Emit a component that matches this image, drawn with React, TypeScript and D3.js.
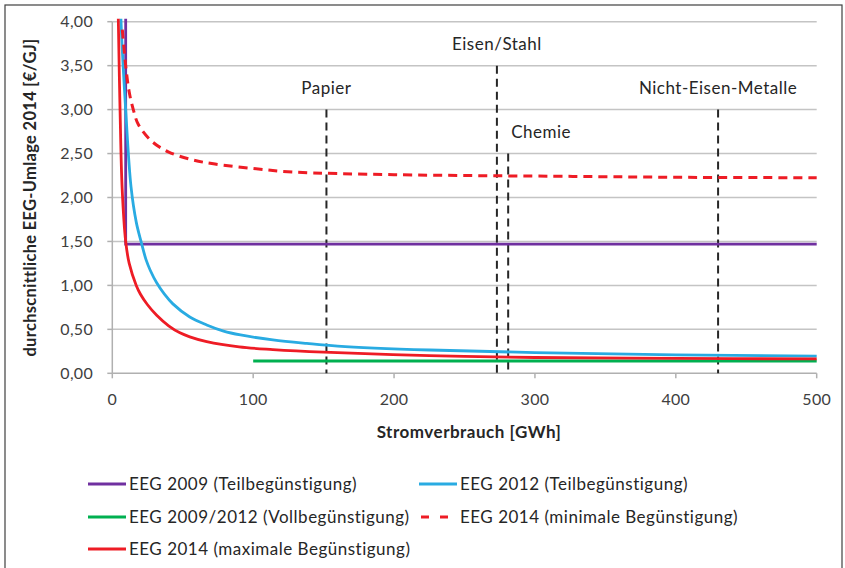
import { useEffect } from "react";
import * as d3 from "d3";

// Stromverbrauch [GWh] / EEG-Umlage [€/GJ]
const eeg2009Teil: [number, number][] = [
  [9.5, 4.4],
  [9.5, 1.47],
  [500, 1.47],
];

const eeg2012Teil: [number, number][] = [
  [5.8, 4.3], [6.2, 4.0], [9.5, 3.0], [13.3, 2.12], [17, 1.72], [20.4, 1.5],
  [24, 1.29], [27, 1.17], [31.5, 1.03], [37, 0.9], [43, 0.79], [55, 0.64], [67, 0.55],
  [79, 0.48], [91, 0.436], [114, 0.38], [138, 0.34], [160, 0.31], [225, 0.265],
  [300, 0.235], [400, 0.21], [500, 0.195],
];

const eegVoll: [number, number][] = [
  [100, 0.14],
  [500, 0.14],
];

const eeg2014Min: [number, number][] = [
  [7.1, 3.91], [9.5, 3.5], [12, 3.2], [14.9, 3.0], [18.5, 2.83], [28, 2.64],
  [39.7, 2.52], [56.4, 2.43], [72.9, 2.38], [100, 2.33], [128, 2.29], [200, 2.26],
  [327, 2.24], [400, 2.23], [500, 2.225],
];

const eeg2014Max: [number, number][] = [
  [4.0, 4.3], [4.3, 4.0], [5.5, 3.0], [7, 2.1], [9.5, 1.5], [12, 1.25], [17, 1.0],
  [20, 0.9], [25, 0.78], [31.5, 0.66], [40, 0.54], [48, 0.46], [55, 0.415],
  [67, 0.36], [90, 0.3], [114, 0.27], [150, 0.24], [225, 0.2], [300, 0.18],
  [400, 0.17], [500, 0.163],
];

const branchen = ["Papier", "Eisen/Stahl", "Chemie", "Nicht-Eisen-Metalle"];
const branchenX = [152, 273, 281, 430];
const branchenTop = [3.0, 3.5, 2.5, 3.0];

const xTicks = [0, 100, 200, 300, 400, 500];
const yTicks = [0, 0.5, 1, 1.5, 2, 2.5, 3, 3.5, 4];

const series = [
  { name: "EEG 2009 (Teilbegünstigung)", data: eeg2009Teil, color: "#7030a0", dash: "" },
  { name: "EEG 2012 (Teilbegünstigung)", data: eeg2012Teil, color: "#29abe2", dash: "" },
  { name: "EEG 2009/2012 (Vollbegünstigung)", data: eegVoll, color: "#00b050", dash: "" },
  { name: "EEG 2014 (minimale Begünstigung)", data: eeg2014Min, color: "#ee1c25", dash: "9 6" },
  { name: "EEG 2014 (maximale Begünstigung)", data: eeg2014Max, color: "#ee1c25", dash: "" },
];

const W = 845;
const H = 568;
const margin = { left: 112.3, right: 28.3, top: 21.7, bottom: 194.7 };
const FONT = "Lato, 'Open Sans', sans-serif";

export default function App() {
  useEffect(() => {
    document.body.style.margin = "0";
  }, []);

  const x = d3.scaleLinear().domain([0, 500]).range([margin.left, W - margin.right]);
  const y = d3.scaleLinear().domain([0, 4]).range([H - margin.bottom, margin.top]);
  const smooth = d3
    .line<[number, number]>()
    .x((d) => x(d[0]))
    .y((d) => y(d[1]))
    .curve(d3.curveCatmullRom.alpha(0.5));
  const straight = d3
    .line<[number, number]>()
    .x((d) => x(d[0]))
    .y((d) => y(d[1]));

  // draw order: markers under curves
  const drawOrder = [0, 2, 1, 4, 3];
  const labelDx = [0, 0, 33, 0];
  const legendCols = [88, 419];
  const legendRows = [484, 517, 549];

  return (
    <svg width={W} height={H} style={{ display: "block", background: "#fff" }} fontFamily={FONT}>
      <defs>
        <clipPath id="plot">
          <rect x={margin.left} y={margin.top - 3} width={W - margin.left - margin.right + 2} height={H - margin.top - margin.bottom + 3} />
        </clipPath>
      </defs>
      <rect x={5} y={5} width={837} height={570} fill="none" stroke="#404040" strokeWidth={1.2} />

      {/* grid */}
      {yTicks.map((t) => (
        <g key={"y" + t}>
          {t > 0 && (
            <line x1={x(0)} x2={x(500)} y1={y(t)} y2={y(t)} stroke="#c4c4c4" strokeWidth={1.5} />
          )}
          <line x1={x(0) - 5} x2={x(0)} y1={y(t)} y2={y(t)} stroke="#b0b0b0" strokeWidth={1.5} />
          <text x={93} y={y(t)} dy="0.35em" textAnchor="end" fontSize={16} letterSpacing={0.3} fill="#404040">
            {d3.format(".2f")(t).replace(".", ",")}
          </text>
        </g>
      ))}
      {xTicks.map((t) => (
        <g key={"x" + t}>
          <line x1={x(t)} x2={x(t)} y1={y(0)} y2={y(0) + 5} stroke="#b0b0b0" strokeWidth={1.5} />
          <text x={x(t)} y={399} dy="0.35em" textAnchor="middle" fontSize={16} letterSpacing={0.3} fill="#404040">
            {t}
          </text>
        </g>
      ))}
      <line x1={x(0)} x2={x(0)} y1={y(4)} y2={y(0)} stroke="#b0b0b0" strokeWidth={1.5} />
      <line x1={x(0)} x2={x(500)} y1={y(0)} y2={y(0)} stroke="#b0b0b0" strokeWidth={1.5} />

      {/* Branchen */}
      {branchen.map((b, i) => (
        <g key={b}>
          <line
            x1={x(branchenX[i])}
            x2={x(branchenX[i])}
            y1={y(branchenTop[i])}
            y2={y(0)}
            stroke="#262626"
            strokeWidth={2}
            strokeDasharray="8 5"
          />
          <text
            x={x(branchenX[i]) + labelDx[i]}
            y={y(branchenTop[i]) - 22}
            dy="0.35em"
            textAnchor="middle"
            fontSize={17}
            letterSpacing={0.5}
            fill="#262626"
          >
            {b}
          </text>
        </g>
      ))}

      <g clipPath="url(#plot)">
        {drawOrder.map((i) => {
          const s = series[i];
          const gen = s.data.length > 3 ? smooth : straight;
          return (
            <path
              key={s.name}
              d={gen(s.data) || ""}
              fill="none"
              stroke={s.color}
              strokeWidth={s.dash ? 3 : 2.8}
              strokeDasharray={s.dash || undefined}
            />
          );
        })}
      </g>

      {/* axis titles */}
      <text x={469} y={432} dy="0.35em" textAnchor="middle" fontSize={17} letterSpacing={0.5} fontWeight="bold" fill="#262626">
        Stromverbrauch [GWh]
      </text>
      <text
        transform={`translate(30,${(y(0) + y(4)) / 2}) rotate(-90)`}
        dy="0.35em"
        textAnchor="middle"
        fontSize={16.5}
        letterSpacing={0.3}
        fontWeight="bold"
        fill="#262626"
      >
        durchscnittliche EEG-Umlage 2014 [€/GJ]
      </text>

      {/* legend */}
      {series.map((s, i) => {
        const lx = legendCols[i % 2];
        const ly = legendRows[Math.floor(i / 2)];
        return (
          <g key={"lg" + s.name}>
            <line
              x1={lx}
              x2={lx + 38}
              y1={ly}
              y2={ly}
              stroke={s.color}
              strokeWidth={3}
              strokeDasharray={s.dash ? "8 11" : undefined}
              strokeDashoffset={s.dash ? -2 : undefined}
            />
            <text x={lx + 41} y={ly} dy="0.35em" fontSize={17} letterSpacing={0.5} fill="#262626">
              {s.name}
            </text>
          </g>
        );
      })}
    </svg>
  );
}
